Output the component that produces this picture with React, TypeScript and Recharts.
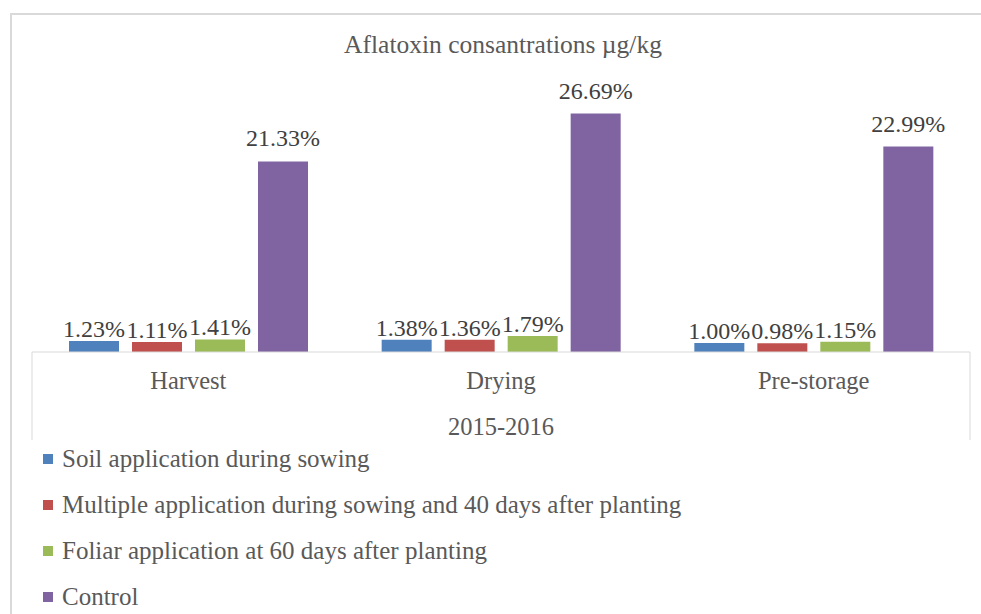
import { BarChart, Bar, XAxis, YAxis, Legend, LabelList } from 'recharts';

// values
const stages = ['Harvest', 'Drying', 'Pre-storage'];
const soilApplication = [1.23, 1.38, 1.0];
const multipleApplication = [1.11, 1.36, 0.98];
const foliarApplication = [1.41, 1.79, 1.15];
const controlValues = [21.33, 26.69, 22.99];

const seriesNames = [
  'Soil application during sowing',
  'Multiple application during sowing and 40 days after planting',
  'Foliar application at 60 days after planting',
  'Control',
];
const seriesKeys = ['soil', 'multiple', 'foliar', 'control'];
const seriesColors = ['#4F81BD', '#C0504D', '#9BBB59', '#8064A2'];
const labelOffsets = [4, 4, 4, 15];

const chartTitle = 'Aflatoxin consantrations µg/kg';
const groupLabel = '2015-2016';

const FONT = "'Liberation Serif', 'Times New Roman', serif";
const TEXT = '#595959';
const GRID = '#d9d9d9';

const data = stages.map((name, i) => ({
  name,
  soil: soilApplication[i],
  multiple: multipleApplication[i],
  foliar: foliarApplication[i],
  control: controlValues[i],
}));

// category tick + the side walls of the category box
const StageTick = (props: any) => {
  const { x, y, payload, index } = props;
  const half = payload?.offset ?? 156;
  return (
    <g>
      <text x={x} y={y + 37} textAnchor="middle" fill={TEXT} fontFamily={FONT} fontSize={24.5}>
        {payload.value}
      </text>
      {index === 0 && <line x1={x - half} y1={y} x2={x - half} y2={y + 88} stroke={GRID} strokeWidth={1} />}
      {index === stages.length - 1 && (
        <line x1={x + half} y1={y} x2={x + half} y2={y + 88} stroke={GRID} strokeWidth={1} />
      )}
    </g>
  );
};

const renderLegend = () => (
  <div style={{ height: 184, fontFamily: FONT, fontSize: 25, color: TEXT }}>
    {seriesNames.map((n, i) => (
      <div key={n} style={{ height: 46, display: 'flex', alignItems: 'center', whiteSpace: 'nowrap' }}>
        <span style={{ width: 10, height: 10, background: seriesColors[i], marginRight: 9, display: 'inline-block' }} />
        {n}
      </div>
    ))}
  </div>
);

export default function App() {
  return (
    <div style={{ position: 'absolute', left: 0, top: 0, width: 981, height: 614, overflow: 'hidden', background: '#fff' }}>
      {/* outer chart frame, runs off the right and bottom edges */}
      <div
        style={{
          position: 'absolute',
          left: 10,
          top: 13,
          width: 1000,
          height: 700,
          border: `2px solid ${GRID}`,
          boxSizing: 'border-box',
        }}
      />
      <div
        style={{
          position: 'absolute',
          left: 0,
          top: 30,
          width: 1006,
          textAlign: 'center',
          fontFamily: FONT,
          fontSize: 25.5,
          lineHeight: '30px',
          color: TEXT,
        }}
      >
        {chartTitle}
      </div>
      <div style={{ position: 'absolute', left: 0, top: 0 }}>
        <BarChart
          width={981}
          height={614}
          data={data}
          margin={{ top: 84, right: 11, left: 32, bottom: 0 }}
          barSize={50}
          barGap={13}
        >
          <XAxis
            dataKey="name"
            height={78}
            tickLine={false}
            tickSize={0}
            tickMargin={0}
            axisLine={{ stroke: GRID }}
            tick={<StageTick />}
            interval={0}
            label={{
              value: groupLabel,
              position: 'insideBottom',
              offset: -5,
              fill: TEXT,
              fontFamily: FONT,
              fontSize: 24.5,
            }}
          />
          <YAxis hide domain={[0, 30]} />
          <Legend
            verticalAlign="bottom"
            align="left"
            layout="horizontal"
            content={renderLegend}
            wrapperStyle={{ left: 43, top: 436, bottom: 'auto', width: 760 }}
          />
          {seriesKeys.map((k, i) => (
            <Bar key={k} dataKey={k} name={seriesNames[i]} fill={seriesColors[i]} isAnimationActive={false}>
              <LabelList
                dataKey={k}
                position="top"
                offset={labelOffsets[i]}
                formatter={(v: any) => `${Number(v).toFixed(2)}%`}
                fill="#404040"
                fontFamily={FONT}
                fontSize={24}
              />
            </Bar>
          ))}
        </BarChart>
      </div>
    </div>
  );
}
